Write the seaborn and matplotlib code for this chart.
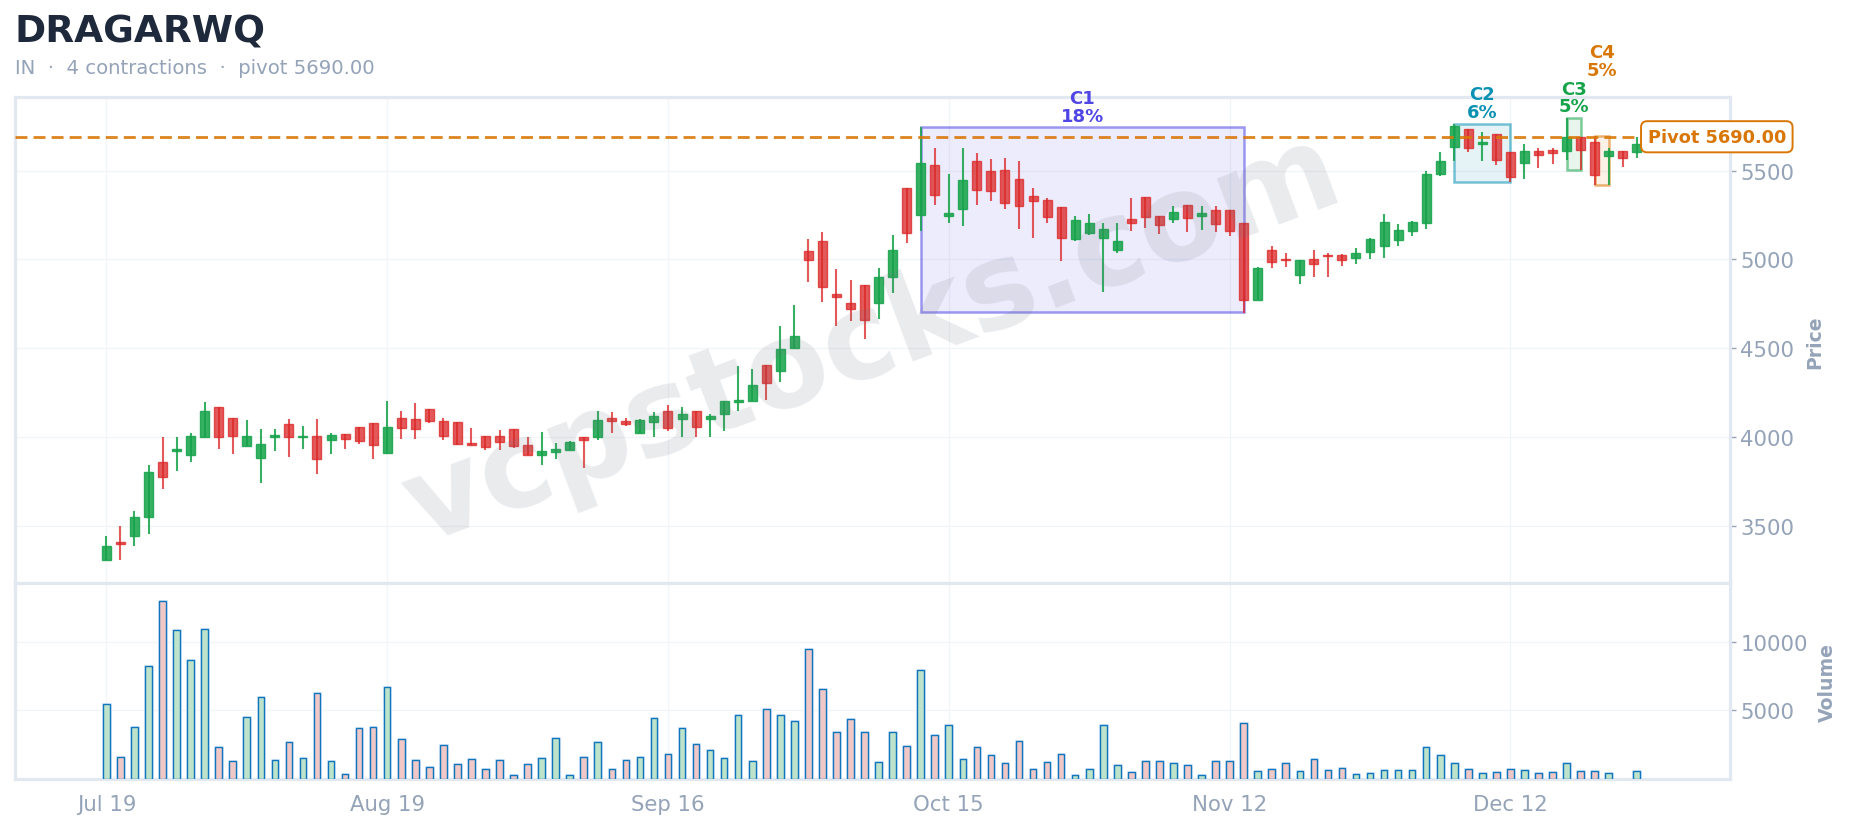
#!/usr/bin/env python3
"""Candlestick chart with contraction boxes and volume panel."""
import numpy as np
import pandas as pd
import matplotlib
matplotlib.use('Agg')
import matplotlib.pyplot as plt
import matplotlib.patheffects as pe
from matplotlib.patches import Rectangle
import seaborn as sns

TICKER = "DRAGARWQ"
SUBTITLE = "IN  ·  4 contractions  ·  pivot 5690.00"
PIVOT = 5690.0

opens = [
    3305, 3411, 3445, 3551, 3858, 3923, 3901, 4002, 4168, 4105,
    3950, 3884, 4002, 4071, 4000, 4004, 3985, 4015, 4054, 4077,
    3912, 4105, 4099, 4157, 4088, 4084, 3968, 4004, 4004, 4043,
    3953, 3901, 3918, 3929, 4002, 4002, 4106, 4090, 4022, 4084,
    4144, 4101, 4144, 4101, 4129, 4197, 4202, 4403, 4371, 4500,
    5049, 5105, 4807, 4756, 4858, 4753, 4899, 5403, 5247, 5532,
    5242, 5283, 5554, 5498, 5504, 5453, 5354, 5335, 5296, 5116,
    5150, 5118, 5050, 5228, 5352, 5245, 5225, 5307, 5245, 5279,
    5278, 5205, 4773, 5055, 5004, 4914, 5002, 5026, 5024, 5009,
    5043, 5075, 5111, 5162, 5207, 5481, 5630, 5731, 5650, 5703,
    5605, 5540, 5611, 5618, 5607, 5690, 5662, 5579, 5611, 5602,
]
highs = [
    3445, 3501, 3585, 3845, 4000, 4000, 4024, 4198, 4168, 4105,
    4097, 4045, 4045, 4101, 4062, 4101, 4024, 4015, 4054, 4077,
    4202, 4146, 4191, 4157, 4107, 4084, 4052, 4004, 4041, 4043,
    4000, 4028, 3968, 3979, 4002, 4146, 4142, 4107, 4101, 4142,
    4180, 4169, 4144, 4129, 4200, 4399, 4384, 4403, 4624, 4742,
    5112, 5152, 4944, 4882, 4858, 4949, 5135, 5403, 5743, 5624,
    5483, 5629, 5601, 5562, 5573, 5551, 5399, 5348, 5296, 5242,
    5253, 5202, 5202, 5343, 5352, 5245, 5300, 5307, 5300, 5300,
    5278, 5205, 4959, 5075, 5034, 4996, 5051, 5038, 5028, 5066,
    5122, 5254, 5201, 5218, 5500, 5602, 5761, 5731, 5714, 5703,
    5605, 5647, 5624, 5624, 5795, 5690, 5696, 5624, 5611, 5690,
]
lows = [
    3305, 3308, 3387, 3454, 3708, 3809, 3858, 4002, 3931, 3903,
    3950, 3742, 3920, 3886, 3931, 3791, 3903, 3931, 3959, 3875,
    3912, 3989, 3989, 4077, 3983, 3955, 3957, 3927, 3927, 3938,
    3901, 3843, 3875, 3929, 3826, 3983, 4021, 4060, 4022, 4002,
    4032, 4002, 4002, 4002, 4032, 4148, 4202, 4206, 4307, 4500,
    4875, 4762, 4622, 4655, 4554, 4666, 4813, 5094, 5161, 5307,
    5206, 5189, 5307, 5330, 5285, 5172, 5122, 5206, 4992, 5105,
    5137, 4818, 5037, 5161, 5178, 5144, 5206, 5155, 5167, 5155,
    5132, 4699, 4773, 4951, 4955, 4859, 4898, 4898, 4961, 4972,
    5000, 5006, 5073, 5132, 5169, 5470, 5553, 5605, 5555, 5530,
    5436, 5451, 5513, 5536, 5558, 5502, 5417, 5417, 5521, 5571,
]
closes = [
    3387, 3396, 3548, 3802, 3776, 3933, 4004, 4144, 4002, 4006,
    4004, 3959, 4013, 4002, 4008, 3877, 4011, 3991, 3979, 3957,
    4054, 4052, 4047, 4092, 4006, 3961, 3957, 3946, 3974, 3950,
    3901, 3920, 3931, 3970, 3985, 4095, 4090, 4073, 4096, 4116,
    4051, 4127, 4056, 4118, 4200, 4208, 4290, 4303, 4493, 4570,
    4994, 4843, 4786, 4719, 4657, 4903, 5054, 5146, 5543, 5361,
    5262, 5448, 5390, 5382, 5315, 5298, 5331, 5236, 5118, 5223,
    5202, 5172, 5105, 5202, 5236, 5191, 5268, 5232, 5262, 5197,
    5162, 4773, 4951, 4987, 4996, 4996, 4976, 5019, 4998, 5036,
    5115, 5211, 5165, 5211, 5483, 5555, 5752, 5624, 5658, 5558,
    5461, 5611, 5590, 5596, 5690, 5613, 5472, 5611, 5573, 5650,
]
volumes = [
    5439, 1561, 3756, 8219, 12975, 10854, 8658, 10927, 2293, 1293,
    4488, 5951, 1341, 2658, 1488, 6244, 1268, 317, 3683, 3756,
    6683, 2878, 1341, 829, 2439, 1049, 1415, 683, 1341, 244,
    1049, 1488, 2951, 244, 1561, 2658, 683, 1341, 1561, 4415,
    1780, 3683, 2512, 2073, 1488, 4634, 1268, 5073, 4634, 4195,
    9463, 6536, 3390, 4341, 3390, 1195, 3390, 2366, 7927, 3171,
    3902, 1415, 2293, 1707, 1122, 2732, 683, 1195, 1780, 244,
    683, 3902, 976, 463, 1268, 1268, 1122, 976, 244, 1268,
    1268, 4049, 537, 683, 1122, 537, 1415, 610, 756, 317,
    390, 610, 610, 610, 2293, 1707, 1122, 683, 390, 463,
    683, 610, 390, 463, 1122, 537, 537, 390, 0, 537,
]
tick_positions = [0, 20, 40, 60, 80, 100]
tick_labels = ["Jul 19", "Aug 19", "Sep 16", "Oct 15", "Nov 12", "Dec 12"]

# contraction boxes
contraction_names = ["C1", "C2", "C3", "C4"]
contraction_depths = ["18%", "6%", "5%", "5%"]
contraction_starts = [58, 96, 104, 106]
contraction_ends = [81, 100, 105, 107]
contraction_lows = [4704, 5434, 5504, 5419]
contraction_highs = [5743, 5761, 5795, 5696]
contraction_colors = ["#4f46e5", "#0891b2", "#16a34a", "#d97706"]
contraction_offsets = [2, 2.5, 2, 41]

GREEN = "#16a34a"
RED = "#dc2626"
GRID = "#f1f5f9"
FRAME = "#e2e8f0"
MUTED = "#94a3b8"
W, H = 1852, 829

sns.set_theme(style="white")
plt.rcParams['font.family'] = ['DejaVu Sans']

df = pd.DataFrame({"open": opens, "high": highs, "low": lows, "close": closes, "volume": volumes})
df["idx"] = np.arange(len(df))
df["dir"] = np.where(df["close"] >= df["open"], "up", "down")
df["top"] = df[["open", "close"]].max(axis=1)
df["bottom"] = df[["open", "close"]].min(axis=1)
df["body"] = df["top"] - df["bottom"]


def pixel_axes(fig, left, top, right, bottom):
    return fig.add_axes([left / W, 1 - bottom / H, (right - left) / W, (bottom - top) / H])


def style_axes(ax):
    ax.yaxis.tick_right()
    ax.yaxis.set_label_position("right")
    ax.grid(True, color=GRID, linewidth=1.0)
    ax.set_axisbelow(True)
    for s in ax.spines.values():
        s.set_color(FRAME)
        s.set_linewidth(2.3)
    ax.tick_params(axis='both', colors=MUTED, labelsize=15.3, length=4, width=1, labelcolor=MUTED)


fig = plt.figure(figsize=(W / 100, H / 100), dpi=100, facecolor="white")
ax_price = pixel_axes(fig, 15.4, 97.6, 1730, 584)
ax_vol = pixel_axes(fig, 15.4, 584, 1730, 779.6)

# candles, bars go per direction so bottom lines up with the subset
for d, color, alpha in [("up", GREEN, 0.86), ("down", RED, 0.76)]:
    part = df[df["dir"] == d]
    ax_price.vlines(part["idx"], part["low"], part["high"], color=color, linewidth=1.5, alpha=alpha, zorder=3)
    sns.barplot(x=part["idx"].values, y=part["body"].values, bottom=part["bottom"].values,
                color=color, native_scale=True, width=0.64, saturation=1, alpha=alpha,
                edgecolor=color, linewidth=1.0, ax=ax_price, zorder=4)

# contraction boxes
for i, name in enumerate(contraction_names):
    c = contraction_colors[i]
    ax_price.add_patch(Rectangle((contraction_starts[i], contraction_lows[i]),
                                 contraction_ends[i] - contraction_starts[i],
                                 contraction_highs[i] - contraction_lows[i],
                                 facecolor=matplotlib.colors.to_rgba(c, 0.1),
                                 edgecolor=matplotlib.colors.to_rgba(c, 0.55),
                                 linewidth=1.8, zorder=2))
    ax_price.annotate(f"{name}\n{contraction_depths[i]}",
                      xy=((contraction_starts[i] + contraction_ends[i]) / 2, contraction_highs[i]),
                      xytext=(0, contraction_offsets[i]), textcoords="offset points",
                      ha="center", va="bottom", color=c, fontsize=13, fontweight="bold",
                      linespacing=0.98, annotation_clip=False, zorder=8)

# pivot
ax_price.axhline(PIVOT, color="#d97706", linewidth=2, dashes=(4.3, 2.2), alpha=0.9, zorder=5)
ax_price.text(114.7, PIVOT, "Pivot 5690.00", ha="center", va="center", color="#d97706",
              fontsize=12.8, fontweight="bold", clip_on=False, zorder=9,
              bbox=dict(boxstyle="round,pad=0.37,rounding_size=0.35", facecolor="white",
                        edgecolor="#d97706", linewidth=1.4))

# volume
sns.barplot(data=df, x="idx", y="volume", hue="dir", hue_order=["up", "down"],
            palette={"up": "#bde3ca", "down": "#f0c8c8"}, native_scale=True, dodge=False,
            width=0.47, saturation=1, legend=False, ax=ax_vol, zorder=3)
for p in ax_vol.patches:
    if p.get_height() > 0:
        p.set_edgecolor("#1175bb")
        p.set_linewidth(1.0)
        p.set_path_effects([pe.withStroke(linewidth=2.2, foreground="#dbeafe")])

# axes setup
for ax in (ax_price, ax_vol):
    style_axes(ax)
    ax.set_xlim(-6.48, 115.64)
    ax.set_xticks(tick_positions)
    ax.set_xlabel("")

ax_price.set_ylim(3178, 5916)
ax_price.set_yticks([3500, 4000, 4500, 5000, 5500])
ax_price.set_ylabel("")
ax_price.tick_params(axis='x', length=0, labelbottom=False)
ax_vol.set_ylim(0, 14319)
ax_vol.set_yticks([5000, 10000])
ax_vol.set_xticklabels(tick_labels)
ax_vol.set_ylabel("")
ax_vol.tick_params(axis='x', pad=7)

fig.text(1815 / W, 1 - 342 / H, "Price", rotation=90, ha="center", va="center",
         color=MUTED, fontsize=13.6, fontweight="bold")
fig.text(1827 / W, 1 - 683 / H, "Volume", rotation=90, ha="center", va="center",
         color=MUTED, fontsize=13.6, fontweight="bold")

# watermark on top of everything
ax_price.text(0.5, 0.5, "vcpstocks.com", transform=ax_price.transAxes, rotation=20.5,
              rotation_mode="anchor", ha="center", va="center", fontsize=86, fontweight="bold",
              color="#6b7280", alpha=0.14, zorder=7, clip_on=True)

fig.text(15 / W, 1 - 32 / H, TICKER, ha="left", va="center", color="#1e293b", fontsize=27, fontweight="bold")
fig.text(15 / W, 1 - 68 / H, SUBTITLE, ha="left", va="center", color=MUTED, fontsize=14.15)

fig.savefig("out.png", dpi=100, facecolor="white")
